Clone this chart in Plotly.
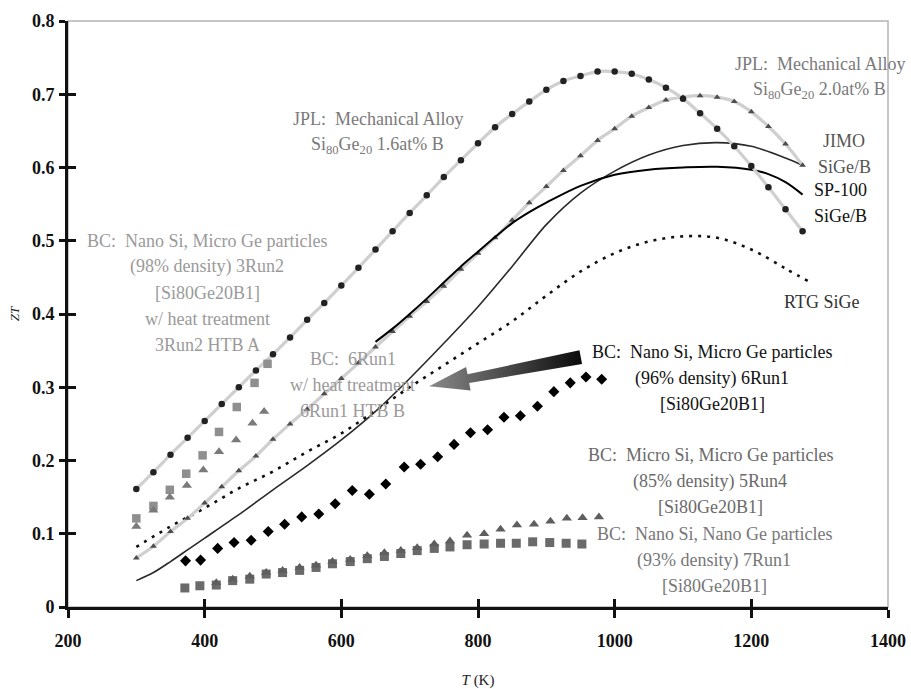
import plotly.graph_objects as go

# ---- JPL mechanically alloyed Si80Ge20 ----
jpl16_T = [300, 325, 350, 375, 400, 425, 450, 475, 500, 525, 550, 575, 600, 625, 650, 675, 700, 725, 750, 775,
           800, 825, 850, 875, 900, 925, 950, 975, 1000, 1025, 1050, 1075, 1100, 1125, 1150, 1175, 1200, 1225, 1250, 1275]
jpl16_zt = [0.161, 0.184, 0.208, 0.231, 0.254, 0.277, 0.300, 0.323, 0.345, 0.368, 0.392, 0.415, 0.439, 0.463, 0.488,
            0.513, 0.538, 0.562, 0.587, 0.610, 0.633, 0.655, 0.673, 0.690, 0.706, 0.718, 0.725, 0.731, 0.731, 0.728,
            0.720, 0.709, 0.694, 0.674, 0.653, 0.629, 0.602, 0.573, 0.543, 0.513]

jpl20_T = jpl16_T
jpl20_zt = [0.067, 0.083, 0.103, 0.121, 0.142, 0.164, 0.186, 0.206, 0.229, 0.250, 0.270, 0.291, 0.312, 0.333, 0.355,
            0.376, 0.397, 0.417, 0.438, 0.461, 0.483, 0.504, 0.528, 0.552, 0.574, 0.596, 0.616, 0.637, 0.653, 0.670,
            0.682, 0.692, 0.696, 0.698, 0.696, 0.690, 0.676, 0.656, 0.632, 0.603]

# ---- flight reference curves ----
jimo_T = [300, 325, 350, 375, 400, 450, 500, 550, 600, 650, 700, 750, 800, 850, 900, 950, 1000, 1050, 1100, 1150,
          1200, 1250, 1275]
jimo_zt = [0.036, 0.047, 0.062, 0.078, 0.094, 0.126, 0.160, 0.193, 0.228, 0.267, 0.312, 0.360, 0.410, 0.465, 0.522,
           0.565, 0.595, 0.617, 0.630, 0.634, 0.629, 0.613, 0.603]

sp100_T = [650, 675, 700, 725, 750, 775, 800, 825, 850, 875, 900, 950, 1000, 1050, 1100, 1150, 1200, 1225, 1250, 1275]
sp100_zt = [0.362, 0.380, 0.400, 0.421, 0.443, 0.465, 0.485, 0.505, 0.524, 0.539, 0.552, 0.575, 0.590, 0.597,
            0.600, 0.601, 0.597, 0.591, 0.580, 0.563]

rtg_T = [300, 350, 400, 450, 500, 550, 600, 650, 700, 750, 800, 850, 900, 950, 1000, 1050, 1100, 1150, 1200, 1250,
         1285]
rtg_zt = [0.082, 0.110, 0.135, 0.162, 0.185, 0.212, 0.237, 0.268, 0.300, 0.330, 0.360, 0.390, 0.425, 0.458, 0.483,
          0.499, 0.506, 0.504, 0.488, 0.462, 0.444]

# ---- BC hot-pressed nanocomposites ----
run3_T = [300, 325, 349, 373, 397, 421, 447, 473, 492]
run3_zt = [0.121, 0.138, 0.160, 0.182, 0.207, 0.239, 0.273, 0.306, 0.332]

run3htb_T = [300, 325, 349, 374, 398, 421, 446, 470, 487]
run3htb_zt = [0.110, 0.132, 0.150, 0.166, 0.187, 0.212, 0.228, 0.251, 0.267]

run6_T = [372, 394, 419, 443, 468, 493, 517, 542, 567, 591, 616, 641, 665, 692, 716, 741, 765, 789, 814, 838, 862,
          887, 911, 935, 958, 981]
run6_zt = [0.063, 0.064, 0.080, 0.088, 0.091, 0.103, 0.113, 0.123, 0.127, 0.141, 0.159, 0.154, 0.168, 0.191, 0.195,
           0.205, 0.222, 0.238, 0.242, 0.259, 0.261, 0.274, 0.294, 0.306, 0.314, 0.311]

run7_T = [371, 393, 417, 441, 466, 490, 514, 539, 563, 587, 613, 638, 663, 687, 711, 736, 759, 784, 809, 833, 856,
          880, 905, 929, 952]
run7_zt = [0.026, 0.029, 0.030, 0.036, 0.038, 0.045, 0.047, 0.050, 0.054, 0.059, 0.062, 0.066, 0.069, 0.073, 0.077,
           0.080, 0.082, 0.085, 0.086, 0.087, 0.087, 0.089, 0.088, 0.087, 0.086]

run5_T = [417, 441, 466, 490, 514, 539, 563, 587, 613, 638, 663, 687, 711, 736, 759, 784, 809, 833, 857, 882, 906,
          930, 953, 977]
run5_zt = [0.033, 0.038, 0.042, 0.047, 0.050, 0.054, 0.057, 0.062, 0.065, 0.070, 0.074, 0.077, 0.081, 0.086, 0.090,
           0.098, 0.100, 0.106, 0.112, 0.113, 0.117, 0.121, 0.122, 0.123]

x_ticks = [200, 400, 600, 800, 1000, 1200, 1400]
y_ticks = [0, 0.1, 0.2, 0.3, 0.4, 0.5, 0.6, 0.7, 0.8]
y_tick_text = ["0", "0.1", "0.2", "0.3", "0.4", "0.5", "0.6", "0.7", "0.8"]

# outline of the shaded arrow linking the 6Run1 label to its heat-treated result
arrow_T = [948.5, 784.7, 782.6, 728.5, 789.2, 787.0, 952.3, 948.5]
arrow_zt = [0.3505, 0.3177, 0.3278, 0.3015, 0.2956, 0.3057, 0.3316, 0.3505]

SERIF = "Liberation Serif"
NB = "\u00a0"

fig = go.Figure()

# reference curves
fig.add_trace(go.Scatter(x=rtg_T, y=rtg_zt, mode="lines",
                         line=dict(color="#111111", width=2.6, dash="3px,6px", shape="spline")))
fig.add_trace(go.Scatter(x=jimo_T, y=jimo_zt, mode="lines",
                         line=dict(color="#2a2a2a", width=1.6, shape="spline", smoothing=0.8)))
fig.add_trace(go.Scatter(x=jpl20_T, y=jpl20_zt, mode="lines+markers",
                         line=dict(color="#cfcfcf", width=3.2, shape="spline"),
                         marker=dict(symbol="triangle-up", size=6, color="#4d4d4d")))
fig.add_trace(go.Scatter(x=sp100_T, y=sp100_zt, mode="lines",
                         line=dict(color="#000000", width=2, shape="spline")))
fig.add_trace(go.Scatter(x=jpl16_T, y=jpl16_zt, mode="lines+markers",
                         line=dict(color="#cfcfcf", width=3.2, shape="spline"),
                         marker=dict(symbol="circle", size=6.5, color="#222222")))

# BC samples
fig.add_trace(go.Scatter(x=run3_T, y=run3_zt, mode="markers",
                         marker=dict(symbol="square", size=8.5, color="#8f8f8f")))
fig.add_trace(go.Scatter(x=run3htb_T, y=run3htb_zt, mode="markers",
                         marker=dict(symbol="triangle-up", size=9, color="#7a7a7a")))
fig.add_trace(go.Scatter(x=run6_T, y=run6_zt, mode="markers",
                         marker=dict(symbol="diamond", size=8.5, color="#000000")))
fig.add_trace(go.Scatter(x=run7_T, y=run7_zt, mode="markers",
                         marker=dict(symbol="square", size=9, color="#6a6a6a")))
fig.add_trace(go.Scatter(x=run5_T, y=run5_zt, mode="markers",
                         marker=dict(symbol="triangle-up", size=9, color="#5e5e5e")))

# shaded arrow
fig.add_trace(go.Scatter(x=arrow_T, y=arrow_zt, mode="lines", fill="toself",
                         line=dict(width=0, color="rgba(0,0,0,0)"),
                         fillgradient=dict(type="horizontal",
                                           colorscale=[[0, "#8a8a8a"], [0.5, "#4a4a4a"], [1, "#0a0a0a"]])))

# secondary axes carry the inward half of each tick mark
fig.add_trace(go.Scatter(x=[None], y=[None], xaxis="x2", yaxis="y2", showlegend=False))

LINE_PX = 26  # vertical pitch between lines of a label block


def label(lines, x, y, color, size=18):
    n = len(lines)
    for i, txt in enumerate(lines):
        shift = ((n - 1) / 2 - i) * LINE_PX
        fig.add_annotation(x=x, y=y, xref="x", yref="y", text=txt, showarrow=False, yshift=shift,
                           font=dict(family=SERIF, size=size, color=color))


label(["JPL:" + NB + NB + "Mechanical Alloy", "Si<sub>80</sub>Ge<sub>20</sub> 1.6at% B"], 653, 0.648, "#7a7a7a")
label(["JPL:" + NB + NB + "Mechanical Alloy", "Si<sub>80</sub>Ge<sub>20</sub> 2.0at% B"], 1300, 0.723, "#7a7a7a")
label(["JIMO", "SiGe/B"], 1336, 0.619, "#555555")
label(["SP-100", "SiGe/B"], 1330, 0.551, "#111111")
label(["RTG SiGe"], 1302, 0.416, "#333333")
label(["BC:" + NB + NB + "Nano Si, Micro Ge particles", "(98% density) 3Run2", "[Si80Ge20B1]",
       "w/ heat treatment", "3Run2 HTB A"], 404, 0.429, "#9a9a9a")
label(["BC:" + NB + NB + "6Run1", "w/ heat treatment", "6Run1 HTB B"], 617, 0.303, "#9a9a9a")
label(["BC:" + NB + NB + "Nano Si, Micro Ge particles", "(96% density) 6Run1", "[Si80Ge20B1]"],
      1143, 0.312, "#111111")
label(["BC:" + NB + NB + "Micro Si, Micro Ge particles", "(85% density) 5Run4", "[Si80Ge20B1]"],
      1140, 0.172, "#6a6a6a")
label(["BC:" + NB + NB + "Nano Si, Nano Ge particles", "(93% density) 7Run1", "[Si80Ge20B1]"],
      1146, 0.064, "#777777")

tick_font = dict(family=SERIF, size=18, color="#111111", weight="bold")

fig.update_layout(
    width=911, height=689,
    margin=dict(l=68, r=23, t=21, b=82, autoexpand=False),
    paper_bgcolor="white", plot_bgcolor="white",
    showlegend=False,
    xaxis=dict(range=[200, 1400], tickvals=x_ticks, ticks="outside", ticklen=8, tickwidth=3, tickcolor="#111111",
               showline=True, linewidth=3, linecolor="#111111", showgrid=False, zeroline=False,
               tickfont=tick_font, ticklabelstandoff=7, automargin=False,
               title=dict(text="<i>T</i> (K)", font=dict(family=SERIF, size=15, color="#222222"), standoff=29)),
    yaxis=dict(range=[0, 0.8], tickvals=y_ticks, ticktext=y_tick_text, ticks="outside", ticklen=6, tickwidth=3,
               tickcolor="#111111", showline=True, linewidth=3, linecolor="#111111", showgrid=False,
               zeroline=False, tickfont=tick_font, ticklabelstandoff=1, automargin=False,
               title=dict(text="<i>ZT</i>", font=dict(family=SERIF, size=13, color="#222222"), standoff=10)),
    xaxis2=dict(range=[200, 1400], overlaying="x", anchor="y", side="bottom", tickvals=x_ticks, ticks="inside",
                ticklen=8, tickwidth=3, tickcolor="#111111", showticklabels=False, showgrid=False,
                zeroline=False, showline=False, automargin=False),
    yaxis2=dict(range=[0, 0.8], overlaying="y", anchor="x", side="left", tickvals=y_ticks, ticks="inside",
                ticklen=8, tickwidth=3, tickcolor="#111111", showticklabels=False, showgrid=False,
                zeroline=False, showline=False, automargin=False),
    shapes=[dict(type="rect", xref="paper", yref="paper", x0=0, x1=1, y0=0, y1=1,
                 line=dict(color="#b4b4b4", width=1.5), layer="below")],
)

fig.write_html("out.html")
